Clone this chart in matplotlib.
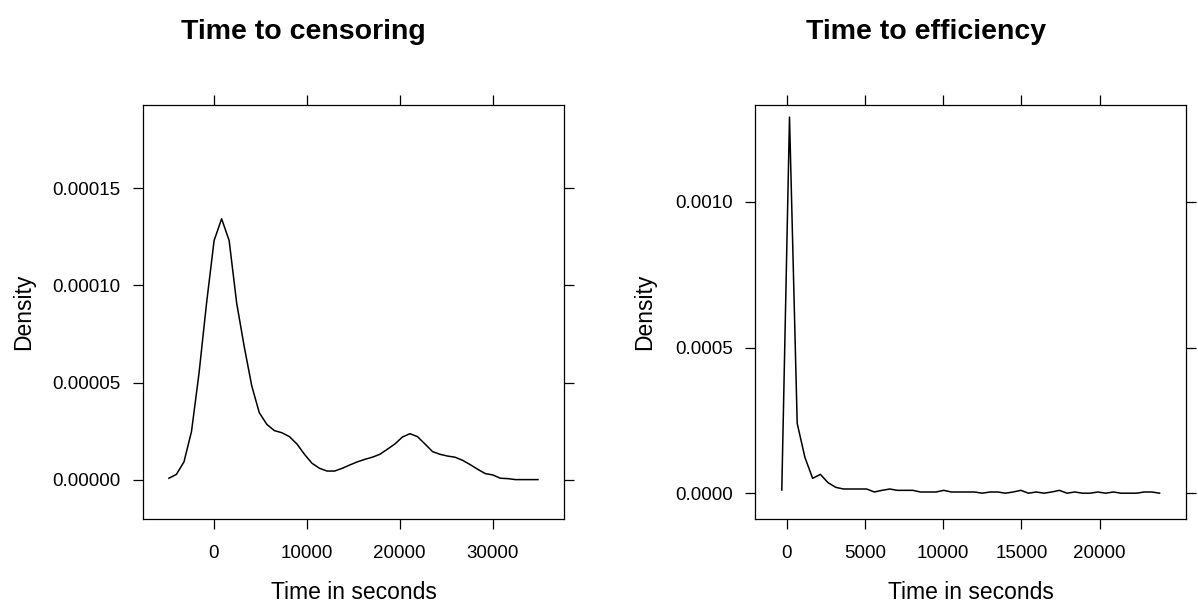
import matplotlib
matplotlib.use('Agg')
import matplotlib.pyplot as plt

plt.rcParams['font.family'] = ['Liberation Sans', 'DejaVu Sans']

# Time to censoring (density, 50 points)
cens_x = [-4820, -4010, -3200, -2390, -1580, -770, 40, 850, 1660, 2470,
          3280, 4090, 4900, 5710, 6520, 7330, 8140, 8950, 9760, 10570,
          11380, 12190, 13000, 13810, 14620, 15430, 16240, 17050, 17860, 18670,
          19480, 20290, 21100, 21910, 22720, 23530, 24340, 25150, 25960, 26770,
          27580, 28390, 29200, 30010, 30820, 31630, 32440, 33250, 34060, 34870]
cens_y = [0.9e-6, 2.9e-6, 9.3e-6, 24.9e-6, 54.9e-6, 90.9e-6, 123.1e-6, 134.3e-6, 123.1e-6, 90.9e-6,
          68.6e-6, 48.4e-6, 34.6e-6, 28.6e-6, 25.4e-6, 24.3e-6, 22.3e-6, 18.5e-6, 13.2e-6, 8.6e-6,
          6.0e-6, 4.6e-6, 4.6e-6, 6.0e-6, 7.7e-6, 9.3e-6, 10.6e-6, 11.7e-6, 13.2e-6, 15.8e-6,
          18.5e-6, 22.1e-6, 23.8e-6, 22.3e-6, 18.5e-6, 14.6e-6, 13.2e-6, 12.3e-6, 11.7e-6, 10.1e-6,
          7.9e-6, 5.5e-6, 3.3e-6, 2.6e-6, 0.9e-6, 0.7e-6, 0.2e-6, 0.2e-6, 0.2e-6, 0.2e-6]

# Time to efficiency (density, 50 points)
eff_x = [-316, 177, 669, 1162, 1655, 2148, 2640, 3133, 3626, 4118,
         4611, 5104, 5596, 6089, 6582, 7074, 7567, 8060, 8553, 9045,
         9538, 10031, 10523, 11016, 11509, 12001, 12494, 12987, 13480, 13972,
         14465, 14958, 15450, 15943, 16436, 16928, 17421, 17914, 18407, 18899,
         19392, 19885, 20377, 20870, 21363, 21855, 22348, 22841, 23334, 23826]
eff_y = [11.4e-6, 1290.8e-6, 239.9e-6, 123.4e-6, 51.4e-6, 65.1e-6, 36.6e-6, 20.6e-6, 14.9e-6, 14.9e-6,
         14.9e-6, 14.9e-6, 4.6e-6, 10.3e-6, 14.9e-6, 10.3e-6, 10.3e-6, 10.3e-6, 4.6e-6, 4.6e-6,
         4.6e-6, 10.3e-6, 4.6e-6, 4.6e-6, 4.6e-6, 4.6e-6, 0.5e-6, 4.6e-6, 4.6e-6, 0.5e-6,
         4.6e-6, 10.3e-6, 0.5e-6, 4.6e-6, 0.5e-6, 4.6e-6, 10.3e-6, 0.5e-6, 4.6e-6, 0.5e-6,
         0.5e-6, 4.6e-6, 0.5e-6, 4.6e-6, 0.5e-6, 0.5e-6, 0.5e-6, 4.6e-6, 4.6e-6, 0.5e-6]

cens_xticks = [0, 10000, 20000, 30000]
cens_yticks = [0.0, 0.00005, 0.00010, 0.00015]
cens_ylabels = ['0.00000', '0.00005', '0.00010', '0.00015']
eff_xticks = [0, 5000, 10000, 15000, 20000]
eff_yticks = [0.0, 0.0005, 0.0010]
eff_ylabels = ['0.0000', '0.0005', '0.0010']

fig = plt.figure(figsize=(11.98, 6.09), dpi=100)
ax1 = fig.add_axes([0.1194, 0.1478, 0.3514, 0.6798])
ax2 = fig.add_axes([0.6305, 0.1478, 0.3595, 0.6798])


def style(ax, xticks, yticks, ylabels, xlabel_x, ylabel_x):
    ax.set_xticks(xticks)
    ax.set_xticklabels([str(t) for t in xticks])
    ax.set_yticks(yticks)
    ax.set_yticklabels(ylabels)
    ax.tick_params(direction='out', length=7.5, width=0.9, labelsize=13.5,
                   top=True, right=True, labeltop=False, labelright=False)
    ax.tick_params(axis='y', pad=8.5)
    ax.tick_params(axis='x', pad=11.5)
    for s in ax.spines.values():
        s.set_linewidth(0.9)
    ax.set_xlabel('Time in seconds', fontsize=16.5, va='center')
    ax.xaxis.set_label_coords(0.5, xlabel_x)
    ax.set_ylabel('Density', fontsize=16.5, va='center', ha='center')
    ax.yaxis.set_label_coords(ylabel_x, 0.5)


# левая панель
ax1.plot(cens_x, cens_y, color='black', lw=1.1)
ax1.set_xlim(-7600, 37670)
ax1.set_ylim(-2.005e-5, 1.928e-4)
style(ax1, cens_xticks, cens_yticks, cens_ylabels, -0.1775, -0.2827)

# правая панель
ax2.plot(eff_x, eff_y, color='black', lw=1.1)
ax2.set_xlim(-2006, 25514)
ax2.set_ylim(-8.8e-5, 1.3324e-3)
style(ax2, eff_xticks, eff_yticks, eff_ylabels, -0.1775, -0.256)

fig.text(303 / 1198, 0.936, 'Time to censoring', fontsize=20.5,
         fontweight='bold', ha='center', va='baseline')
fig.text(926 / 1198, 0.936, 'Time to efficiency', fontsize=20.5,
         fontweight='bold', ha='center', va='baseline')

fig.savefig('out.png', dpi=100)
